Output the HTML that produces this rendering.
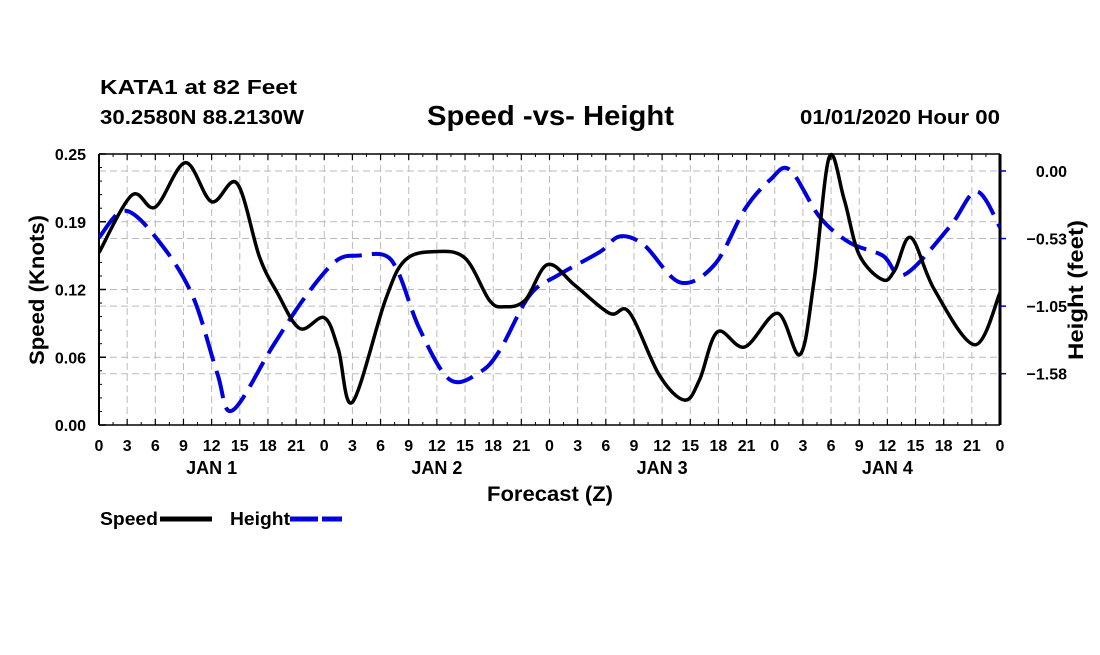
<!DOCTYPE html>
<html><head><meta charset="utf-8">
<style>
body{margin:0;background:#fff;width:1100px;height:650px;overflow:hidden}
svg text{font-family:"Liberation Sans",Arial,sans-serif;font-weight:bold;fill:#000}
</style></head><body>
<svg id="chart" width="1100" height="650" viewBox="0 0 1100 650">
<text x="100" y="94" font-size="20" textLength="197" lengthAdjust="spacingAndGlyphs">KATA1 at 82 Feet</text>
<text x="100" y="124" font-size="20" textLength="204" lengthAdjust="spacingAndGlyphs">30.2580N 88.2130W</text>
<text x="427" y="125" font-size="28" textLength="247" lengthAdjust="spacingAndGlyphs">Speed -vs- Height</text>
<text x="800" y="124" font-size="20" textLength="200" lengthAdjust="spacingAndGlyphs">01/01/2020 Hour 00</text>
<g id="grid"></g>
<g id="axes"></g>
<g id="series"></g>
<text transform="translate(44,290) rotate(-90)" font-size="21" text-anchor="middle" textLength="150" lengthAdjust="spacingAndGlyphs">Speed (Knots)</text>
<text transform="translate(1083,290) rotate(-90)" font-size="21" text-anchor="middle" textLength="140" lengthAdjust="spacingAndGlyphs">Height (feet)</text>
<text x="487" y="501" font-size="21" textLength="126" lengthAdjust="spacingAndGlyphs">Forecast (Z)</text>
<g>
<text x="100" y="525" font-size="18" textLength="58" lengthAdjust="spacingAndGlyphs">Speed</text>
<line x1="160" y1="519" x2="212" y2="519" stroke="#000" stroke-width="5"/>
<text x="230" y="525" font-size="18" textLength="60" lengthAdjust="spacingAndGlyphs">Height</text>
<line x1="290" y1="519" x2="342" y2="519" stroke="#0000dd" stroke-width="5" stroke-dasharray="28 4"/>
</g>
</svg>
<script>
const xTickLabels=["0","3","6","9","12","15","18","21","0","3","6","9","12","15","18","21","0","3","6","9","12","15","18","21","0","3","6","9","12","15","18","21","0"];
const dayLabels=["JAN 1","JAN 2","JAN 3","JAN 4"];
const leftTicks=[0,0.0625,0.125,0.1875,0.25];
const leftTickLabels=["0.00","0.06","0.12","0.19","0.25"];
const rightTicks=[0,-0.5275,-1.055,-1.5825];
const rightTickLabels=["0.00","\u22120.53","\u22121.05","\u22121.58"];
const speedHours=[0,3.5,6,9.2,12,14.7,17.1,19,21.4,24,25.5,27,30.5,32.6,35.8,39,41.6,43.2,45.4,47.8,50.7,54.4,56.5,59.7,62.4,64,65.9,68.8,72.3,74.7,76.2,77.8,79.4,81,83.5,84.8,86.5,89,93.3,96];
const speedValues=[0.159,0.212,0.201,0.242,0.206,0.223,0.155,0.122,0.089,0.099,0.07,0.021,0.115,0.152,0.16,0.154,0.115,0.109,0.115,0.148,0.129,0.103,0.104,0.046,0.023,0.042,0.086,0.072,0.103,0.065,0.134,0.247,0.208,0.157,0.134,0.143,0.173,0.125,0.074,0.122];
const heightHours=[0,2.8,6.5,10,12.6,14.2,18.5,22,25.3,27.8,30.5,32,34.2,37.4,40.6,42.7,45.9,49,53.4,55.5,58.1,61.9,65.6,68.8,71.5,73.6,76.8,80,83.5,85.8,90.6,93.5,96];
const heightValues=[-0.52,-0.31,-0.56,-0.98,-1.58,-1.87,-1.37,-0.98,-0.70,-0.66,-0.66,-0.81,-1.24,-1.63,-1.57,-1.40,-0.97,-0.81,-0.63,-0.51,-0.58,-0.87,-0.73,-0.30,-0.07,0.01,-0.36,-0.56,-0.66,-0.81,-0.44,-0.16,-0.44];

const NS="http://www.w3.org/2000/svg";
const X0=99,X1=1000,Y0=154,Y1=425;
const H_MIN=-1.983,H_MAX=0.1325;
function xs(h){return X0+(X1-X0)*h/96;}
function yl(v){return Y1-(Y1-Y0)*v/0.25;}
function yr(v){return Y1-(Y1-Y0)*(v-H_MIN)/(H_MAX-H_MIN);}
function mk(tag,attrs,parent){const e=document.createElementNS(NS,tag);for(const k in attrs)e.setAttribute(k,attrs[k]);parent.appendChild(e);return e;}
const grid=document.getElementById('grid'),axes=document.getElementById('axes'),series=document.getElementById('series');

mk('rect',{x:X0,y:Y0,width:X1-X0,height:Y1-Y0,fill:'#fff'},grid);
for(let i=1;i<32;i++){const x=xs(i*3);
 const g=mk('line',{x1:x,y1:Y0,x2:x,y2:Y1,stroke:'#bbb','stroke-width':1,'stroke-dasharray':'7 4'},grid);
 
 }
leftTicks.slice(1,4).forEach(v=>{const y=yl(v);
 const g=mk('line',{x1:X0,y1:y,x2:X1,y2:y,stroke:'#bbb','stroke-width':1,'stroke-dasharray':'7 4'},grid);
 
 });
rightTicks.forEach(v=>{const y=yr(v);
 const g=mk('line',{x1:X0,y1:y,x2:X1,y2:y,stroke:'#bbb','stroke-width':1,'stroke-dasharray':'7 4'},grid);
 
 });

mk('line',{x1:X0,y1:Y0,x2:X1,y2:Y0,stroke:'#000','stroke-width':1.5},axes);
mk('line',{x1:X0,y1:Y1,x2:X1,y2:Y1,stroke:'#000','stroke-width':1.5},axes);
mk('line',{x1:X0,y1:Y0,x2:X0,y2:Y1,stroke:'#000','stroke-width':2},axes);
mk('line',{x1:X1,y1:Y0,x2:X1,y2:Y1,stroke:'#000','stroke-width':3},axes);
xTickLabels.forEach((t,i)=>{const x=xs(i*3);
 mk('line',{x1:x,y1:Y1,x2:x,y2:Y1-6,stroke:'#000','stroke-width':1.2},axes);
 mk('line',{x1:x,y1:Y0,x2:x,y2:Y0+6,stroke:'#000','stroke-width':1.2},axes);
 if(i<32){const xm=xs(i*3+1.5);
  mk('line',{x1:xm,y1:Y1,x2:xm,y2:Y1-3,stroke:'#000','stroke-width':1},axes);
  mk('line',{x1:xm,y1:Y0,x2:xm,y2:Y0+3,stroke:'#000','stroke-width':1},axes);}
 const tx=mk('text',{x:x,y:451,'font-size':16,'text-anchor':'middle'},axes);tx.textContent=t;
 
 });
dayLabels.forEach((d,i)=>{const tx=mk('text',{x:xs(i*24+12),y:474,'font-size':18,'text-anchor':'middle'},axes);tx.textContent=d;
 
 });
for(let v=0;v<=0.25001;v+=0.0125){const y=yl(v);
 mk('line',{x1:X0,y1:y,x2:X0+3,y2:y,stroke:'#000','stroke-width':1},axes);}
leftTicks.forEach((v,i)=>{const y=yl(v);
 mk('line',{x1:X0,y1:y,x2:X0+7,y2:y,stroke:'#000','stroke-width':1.5},axes);
 const tx=mk('text',{x:86,y:y+6,'font-size':16,'text-anchor':'end'},axes);tx.textContent=leftTickLabels[i];
 
 });
rightTicks.forEach((v,i)=>{const y=yr(v);
 mk('line',{x1:X1,y1:y,x2:X1+6,y2:y,stroke:'#0000aa','stroke-width':1.5},axes);
 const tx=mk('text',{x:1067,y:y+6,'font-size':16,'text-anchor':'end'},axes);tx.textContent=rightTickLabels[i];
 
 });

function smoothPath(pts){let d='M'+pts[0][0].toFixed(1)+','+pts[0][1].toFixed(1);
 for(let i=0;i<pts.length-1;i++){const p0=pts[Math.max(0,i-1)],p1=pts[i],p2=pts[i+1],p3=pts[Math.min(pts.length-1,i+2)];
  const c1=[p1[0]+(p2[0]-p0[0])/6,p1[1]+(p2[1]-p0[1])/6],c2=[p2[0]-(p3[0]-p1[0])/6,p2[1]-(p3[1]-p1[1])/6];
  d+=' C'+c1.map(n=>n.toFixed(1)).join(',')+' '+c2.map(n=>n.toFixed(1)).join(',')+' '+p2[0].toFixed(1)+','+p2[1].toFixed(1);}
 return d;}
const cp=mk('clipPath',{id:'clip'},series);mk('rect',{x:X0,y:Y0-3,width:X1-X0,height:Y1-Y0+6},cp);
const hp=mk('path',{d:smoothPath(heightHours.map((h,i)=>[xs(h),yr(heightValues[i])])),fill:'none',stroke:'#0000dd','stroke-width':4,'stroke-dasharray':'28 10','clip-path':'url(#clip)'},series);


const sp=mk('path',{d:smoothPath(speedHours.map((h,i)=>[xs(h),yl(speedValues[i])])),fill:'none',stroke:'#000','stroke-width':3.5,'stroke-linejoin':'round','clip-path':'url(#clip)'},series);


</script>
</body></html>
